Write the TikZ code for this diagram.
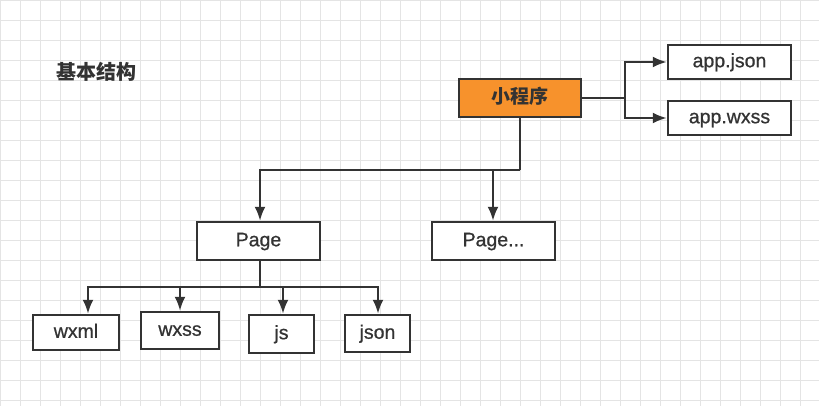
\documentclass[tikz,border=0pt]{standalone}
\usepackage{fontspec}
\setmainfont{Liberation Sans}
\newfontfamily\semib[FakeBold=0.8]{Liberation Sans}
\newfontfamily\cjk{Noto Sans CJK SC}
\usetikzlibrary{arrows.meta}
\definecolor{gridc}{HTML}{E4E4E4}
\definecolor{linec}{HTML}{333333}
\definecolor{textc}{HTML}{333333}
\definecolor{orangec}{HTML}{F7922C}
\begin{document}
\begin{tikzpicture}[x=1pt,y=-1pt,
  box/.style={draw=linec,line width=2.4pt,fill=white,inner sep=0pt,font=\semib\fontsize{19.5}{22}\selectfont,text=textc,text height=14pt,text depth=3.5pt},
  conn/.style={draw=linec,line width=2.4pt},
  arr/.style={conn,-{Latex[length=14pt,width=11pt]}}]
\useasboundingbox (0,0) rectangle (819,406);
\fill[white] (0,0) rectangle (819,406);
\foreach \i in {0,...,41} {\draw[gridc,line width=0.8pt] (\i*20,0) -- (\i*20,406);}
\foreach \j in {0,...,20} {\draw[gridc,line width=0.8pt] (0,\j*20) -- (819,\j*20);}
\node[font=\cjk\bfseries\fontsize{20}{22}\selectfont,text=textc] (title) at (96,72) {基本结构};
\node[box,fill=orangec,minimum width=122pt,minimum height=38pt,font=\cjk\bfseries\fontsize{19}{21}\selectfont,text height=15pt,text depth=3pt] (mp) at (520,98) {小程序};
\node[box,minimum width=123pt,minimum height=34pt] (aj) at (729.5,62) {app.json};
\node[box,minimum width=123pt,minimum height=34pt] (aw) at (729.5,118) {app.wxss};
\node[box,minimum width=123pt,minimum height=38pt] (pg) at (258.5,241) {Page};
\node[box,minimum width=123pt,minimum height=38pt] (pg2) at (493.5,241) {Page...};
\node[box,minimum width=86pt,minimum height=35pt] (wxml) at (76,332.5) {wxml};
\node[box,minimum width=78pt,minimum height=37pt] (wxss) at (180,330.5) {wxss};
\node[box,minimum width=65pt,minimum height=38pt] (js) at (281.5,334) {js};
\node[box,minimum width=65pt,minimum height=37pt] (json) at (377.5,333.5) {json};
\coordinate (r) at (625,98);
\coordinate (d) at (520,170);
\coordinate (d2) at (260,287);
\draw[conn] (mp.east) -- (r);
\draw[arr] (r) |- (aj.west);
\draw[arr] (r) |- (aw.west);
\draw[conn] (mp.south) -- (d);
\draw[conn] (d) -- (260,170);
\draw[arr] (d) -| (pg.north -| 260,0);
\draw[arr] (493,170) -- (493,0 |- pg2.north);
\draw[conn] (pg.south -| 260,0) -- (d2);
\draw[arr] (d2) -| (88,0 |- wxml.north);
\draw[arr] (d2) -| (wxss.north);
\draw[arr] (d2) -| (283,0 |- js.north);
\draw[arr] (d2) -| (378,0 |- json.north);
\end{tikzpicture}
\end{document}
